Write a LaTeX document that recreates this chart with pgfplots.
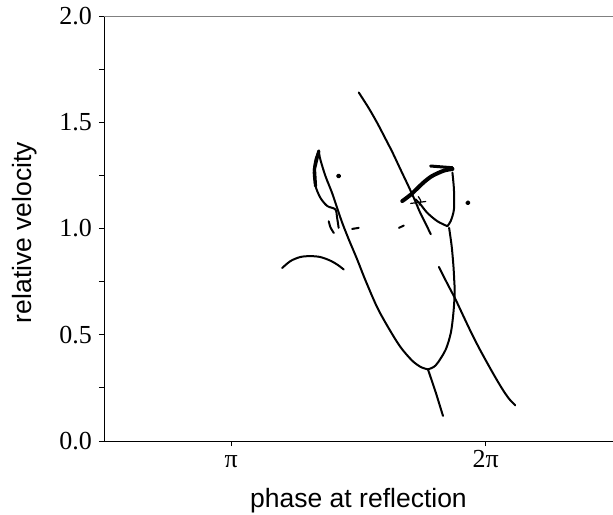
\documentclass[border=0pt]{standalone}
\usepackage{fontspec}
\setmainfont{Liberation Serif}
\setsansfont{Liberation Sans}
\usepackage{pgfplots}
\pgfplotsset{compat=1.18}
\begin{document}
\begin{tikzpicture}
\begin{axis}[
  scale only axis, width=509pt, height=425pt,
  xmin=0.5, xmax=2.5, ymin=0, ymax=2,
  axis line style={draw=none},
  xtick={1,2}, xticklabels={π,2π},
  ytick={0,0.5,1,1.5,2},
  minor ytick={0.25,0.75,1.25,1.75},
  /pgf/number format/assume math mode=true,
  yticklabel={\pgfmathprintnumber[fixed,fixed zerofill,precision=1]{\tick}},
  tick align=outside, xtick pos=bottom, ytick pos=left,
  major tick length=5pt, minor tick length=5pt,
  tick style={black, line width=0.8pt},
  ticklabel style={font=\fontsize{26}{30}\selectfont},
  yticklabel style={xshift=-3.5pt},
  xticklabel style={text height=0.68em, text depth=0.1em, yshift=-11pt},
  xlabel={phase at reflection}, ylabel={relative velocity},
  every axis x label/.style={at={(axis description cs:0.5,0)}, yshift=-60pt, anchor=center, font=\sffamily\fontsize{26.5}{30}\selectfont},
  every axis y label/.style={at={(axis description cs:0,0.5)}, xshift=-79pt, yshift=-4pt, rotate=90, anchor=center, font=\sffamily\fontsize{26.5}{30}\selectfont},
  every axis plot/.append style={black, line width=2pt, line cap=round, line join=round},
  clip=false,
]
\coordinate (SW) at (rel axis cs:0,0);
\coordinate (NE) at (rel axis cs:1,1);
\draw[black, line width=0.8pt] (rel axis cs:0,1) -- (rel axis cs:0,0) -- (rel axis cs:1,0);
\draw[gray, line width=0.7pt] (rel axis cs:0,1) -- (rel axis cs:1,1);
% long line A
\addplot[black, smooth] coordinates {(1.501,1.640) (1.540,1.567) (1.573,1.498) (1.604,1.427) (1.634,1.357) (1.665,1.278) (1.696,1.200) (1.720,1.137) (1.742,1.075) (1.765,1.020) (1.784,0.973)};
% line C
\addplot[black, smooth] coordinates {(1.816,0.819) (1.848,0.743) (1.881,0.667) (1.912,0.588) (1.943,0.510) (1.974,0.437) (2.005,0.369) (2.036,0.303) (2.066,0.243) (2.092,0.198) (2.116,0.168)};
% arc D
\addplot[black, smooth] coordinates {(1.200,0.814) (1.233,0.847) (1.272,0.866) (1.311,0.870) (1.349,0.866) (1.387,0.850) (1.418,0.829) (1.442,0.807)};
% main left side of big loop
\addplot[black, smooth] coordinates {(1.344,1.365) (1.350,1.325) (1.370,1.247) (1.396,1.168) (1.416,1.097) (1.436,1.027) (1.462,0.948) (1.495,0.854) (1.526,0.760) (1.573,0.630) (1.619,0.530) (1.665,0.442) (1.711,0.378) (1.745,0.348) (1.773,0.337)};
% right side of big loop
\addplot[black, smooth] coordinates {(1.773,0.337) (1.795,0.348) (1.812,0.369) (1.843,0.431) (1.863,0.510) (1.873,0.604) (1.878,0.698) (1.876,0.760) (1.873,0.824) (1.866,0.918) (1.856,1.003)};
% tail
\addplot[black] coordinates {(1.773,0.337) (1.804,0.227) (1.832,0.118)};
% left loop, left branch
\addplot[black, smooth] coordinates {(1.344,1.365) (1.331,1.325) (1.324,1.263) (1.331,1.200) (1.350,1.145) (1.377,1.106) (1.409,1.090) (1.416,1.050) (1.422,1.003)};
\addplot[black, line width=3.2pt] coordinates {(1.331,1.200) (1.327,1.280) (1.344,1.365)};
% small arc and dashes
\addplot[black, smooth] coordinates {(1.383,1.034) (1.390,1.005) (1.403,0.979)};
\addplot[black] coordinates {(1.475,0.998) (1.501,1.003)};
\addplot[black] coordinates {(1.659,1.003) (1.678,1.014)};
% upper right loop
\addplot[black, smooth] coordinates {(1.849,1.011) (1.862,1.034) (1.875,1.090) (1.875,1.184) (1.869,1.263)};
\addplot[black, smooth] coordinates {(1.849,1.011) (1.810,1.034) (1.770,1.074) (1.744,1.113) (1.724,1.137)};
% thick arrow stroke
\addplot[black, smooth, line width=4pt] coordinates {(1.672,1.129) (1.704,1.158) (1.727,1.184) (1.757,1.218) (1.789,1.247) (1.835,1.272) (1.869,1.280)};
\addplot[black, line width=3pt] coordinates {(1.783,1.294) (1.869,1.286)};
% small cross in upper loop
\addplot[black, line width=1.2pt] coordinates {(1.705,1.118) (1.764,1.127)};
\addplot[black, line width=1.2pt, smooth] coordinates {(1.735,1.150) (1.745,1.128) (1.738,1.110)};
% dots
\addplot[black, only marks, mark=*, mark size=1.5pt] coordinates {(1.422,1.247) (1.930,1.121)};
\end{axis}
\pgfresetboundingbox
\path ([shift={(-104pt,-73pt)}]SW) rectangle ([shift={(0pt,16pt)}]NE);
\end{tikzpicture}
\end{document}
